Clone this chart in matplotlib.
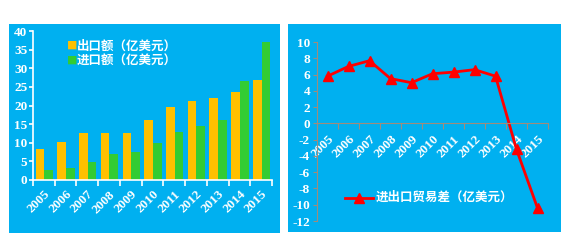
import numpy as np
import matplotlib.pyplot as plt
from matplotlib.patches import Rectangle
from matplotlib.lines import Line2D

plt.rcParams['axes.unicode_minus'] = False

years = ['2005', '2006', '2007', '2008', '2009', '2010', '2011', '2012', '2013', '2014', '2015']
exports = [8.2, 10.3, 12.5, 12.5, 12.5, 16.2, 19.5, 21.1, 21.9, 23.5, 26.8]
imports = [2.6, 3.2, 4.7, 6.9, 7.4, 9.8, 13.0, 14.4, 16.0, 26.5, 37.0]
balance = [5.8, 7.0, 7.7, 5.5, 5.0, 6.1, 6.3, 6.6, 5.8, -3.2, -10.4]

blue = '#00B0F0'
orange = '#FFC000'
green = '#33CC33'
cjk = ['Noto Sans CJK SC', 'DejaVu Sans']
serif = 'Liberation Serif'

fig = plt.figure(figsize=(5.68, 2.45), dpi=100)
fig.patches.append(Rectangle((9/568, 12/245), 271/568, 209/245, transform=fig.transFigure,
                             facecolor=blue, edgecolor='none', zorder=-10))
fig.patches.append(Rectangle((288/568, 13/245), 273/568, 208/245, transform=fig.transFigure,
                             facecolor=blue, edgecolor='none', zorder=-10))

x = np.arange(len(years))

# left: bars
ax1 = fig.add_axes([33/568, 65/245, 239/568, 149/245])
ax1.patch.set_visible(False)
w = 0.4
ax1.bar(x - w/2 + 0.02, exports, w, color=orange)
ax1.bar(x + w/2 + 0.02, imports, w, color=green)
ax1.set_xlim(-0.5, len(years) - 0.5)
ax1.set_ylim(0, 40)
ax1.set_yticks(range(0, 41, 5))
for s in ['top', 'right']:
    ax1.spines[s].set_visible(False)
for s in ['left', 'bottom']:
    ax1.spines[s].set_color('white')
    ax1.spines[s].set_linewidth(1.2)
ax1.set_xticks(np.arange(-0.5, len(years), 1))
ax1.set_xticklabels([])
ax1.set_xticks(x, minor=True)
ax1.set_xticklabels(years, minor=True, rotation=45, ha='right', rotation_mode='anchor',
                    fontfamily=serif, fontweight='bold', fontsize=9.5, color='white')
ax1.tick_params(axis='x', which='major', length=4, color='white', width=1.2)
ax1.tick_params(axis='x', which='minor', length=0, pad=6)
ax1.tick_params(axis='y', length=3, color='white', width=1.2, labelcolor='white', pad=1)
for t in ax1.get_yticklabels():
    t.set_fontfamily(serif)
    t.set_fontweight('bold')
    t.set_fontsize(9.5)

fig.text(67/568, 1 - 46/245, '■', color=orange, fontsize=7.5, va='center', family=cjk)
fig.text(77/568, 1 - 46/245, '出口额（亿美元）', color='white', fontsize=9, fontweight='bold',
         va='center', family=cjk)
fig.text(67/568, 1 - 61/245, '■', color=green, fontsize=7.5, va='center', family=cjk)
fig.text(77/568, 1 - 61/245, '进口额（亿美元）', color='white', fontsize=9, fontweight='bold',
         va='center', family=cjk)

# right: line
axc = '#A08C7C'
ax2 = fig.add_axes([317/568, 24/245, 231/568, 179/245])
ax2.patch.set_visible(False)
ax2.plot(x, balance, color='#FF0000', lw=2, marker='^', ms=6.5)
ax2.set_xlim(-0.5, len(years) - 0.5)
ax2.set_ylim(-12, 10)
ax2.set_yticks(range(-12, 11, 2))
ax2.spines['top'].set_visible(False)
ax2.spines['right'].set_visible(False)
ax2.spines['left'].set_color(axc)
ax2.spines['bottom'].set_position(('data', 0))
ax2.spines['bottom'].set_color(axc)
ax2.set_xticks(np.arange(-0.5, len(years), 1))
ax2.set_xticklabels([])
ax2.set_xticks(x, minor=True)
ax2.set_xticklabels(years, minor=True, rotation=45, ha='right', rotation_mode='anchor',
                    fontfamily=serif, fontweight='bold', fontsize=9.5, color='white')
ax2.tick_params(axis='x', which='major', length=4, color=axc, direction='out')
ax2.tick_params(axis='x', which='minor', length=0, pad=7)
ax2.tick_params(axis='y', length=3, color=axc, labelcolor='white', pad=2)
for t in ax2.get_yticklabels():
    t.set_fontfamily(serif)
    t.set_fontweight('bold')
    t.set_fontsize(9.5)

fig.add_artist(Line2D([345/568, 373/568], [1 - 198/245, 1 - 198/245], color='#FF0000', lw=2))
fig.add_artist(Line2D([359/568], [1 - 198/245], color='#FF0000', marker='^', ms=6.5, lw=0))
fig.text(376/568, 1 - 197/245, '进出口贸易差（亿美元）', color='white', fontsize=9,
         fontweight='bold', va='center', family=cjk)

fig.savefig('out.png', dpi=100)
